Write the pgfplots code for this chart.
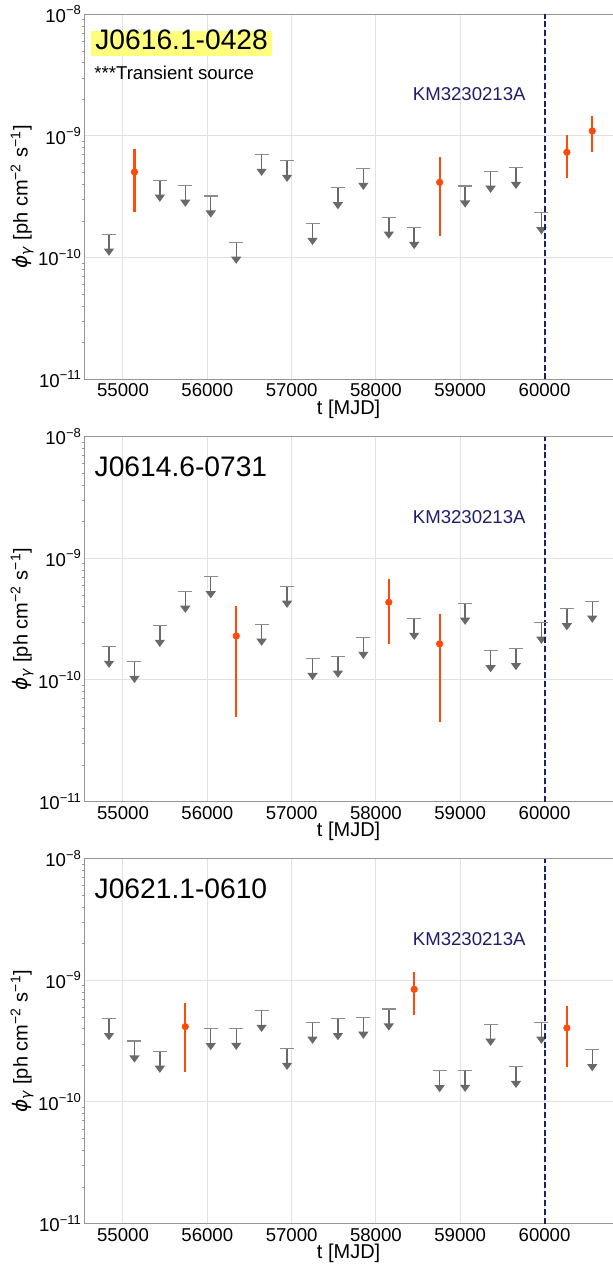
\documentclass[border=0pt]{standalone}
\usepackage{fontspec}
\setmainfont{Liberation Sans}
\newfontfamily\djv{DejaVu Sans}
\usepackage{pgfplots}
\pgfplotsset{compat=1.18}
\usepackage{pgfplotstable}
\usetikzlibrary{arrows.meta}

\definecolor{ulgray}{RGB}{105,105,105}
\definecolor{capgray}{RGB}{140,140,140}
\definecolor{detcol}{RGB}{255,75,10}
\definecolor{kmblue}{RGB}{30,30,105}
\definecolor{hlyellow}{RGB}{255,255,125}
\definecolor{gridgray}{RGB}{225,225,225}
\definecolor{spinegray}{RGB}{150,150,150}

\newcommand{\fsz}{\fontsize{9.3}{11}\selectfont}
\newcommand{\tfsz}{\fontsize{14.1}{16}\selectfont}

% ---------- Panel 1: J0616.1-0428 ----------
\pgfplotstableread{
x f
54834 1.56e-10
55437 4.33e-10
55739 3.94e-10
56041 3.21e-10
56343 1.34e-10
56644 7.07e-10
56946 6.31e-10
57248 1.91e-10
57549 3.76e-10
57851 5.42e-10
58153 2.15e-10
58454 1.77e-10
59058 3.88e-10
59360 5.13e-10
59661 5.52e-10
59963 2.34e-10
}\ulA
\pgfplotstableread{
x f ep em
55136 5.06e-10 2.71e-10 2.70e-10
58756 4.16e-10 2.60e-10 2.65e-10
60265 7.34e-10 2.76e-10 2.79e-10
60566 1.10e-9 3.70e-10 3.62e-10
}\detA

% ---------- Panel 2: J0614.6-0731 ----------
\pgfplotstableread{
x f
54834 1.89e-10
55136 1.42e-10
55437 2.81e-10
55739 5.36e-10
56041 7.06e-10
56644 2.87e-10
56946 5.89e-10
57248 1.50e-10
57549 1.57e-10
57851 2.24e-10
58454 3.21e-10
59058 4.27e-10
59360 1.74e-10
59661 1.81e-10
59963 2.98e-10
60265 3.85e-10
60566 4.44e-10
}\ulB
\pgfplotstableread{
x f ep em
56343 2.30e-10 1.78e-10 1.80e-10
58153 4.35e-10 2.37e-10 2.39e-10
58756 1.98e-10 1.53e-10 1.53e-10
}\detB

% ---------- Panel 3: J0621.1-0610 ----------
\pgfplotstableread{
x f
54834 4.84e-10
55136 3.17e-10
55437 2.61e-10
56041 4.01e-10
56343 4.03e-10
56644 5.66e-10
56946 2.76e-10
57248 4.52e-10
57549 4.84e-10
57851 4.97e-10
58153 5.81e-10
58756 1.81e-10
59058 1.82e-10
59360 4.35e-10
59661 1.96e-10
59963 4.52e-10
60566 2.69e-10
}\ulC
\pgfplotstableread{
x f ep em
55739 4.16e-10 2.39e-10 2.39e-10
58454 8.43e-10 3.27e-10 3.21e-10
60265 4.06e-10 2.09e-10 2.12e-10
}\detC

\pgfplotsset{
  every axis/.append style={
    width=264.35pt, height=182.5pt, scale only axis,
    xmin=54541, xmax=60812,
    ymin=1e-11, ymax=1e-8,
    axis x line*=box, axis y line*=left,
    axis line style={spinegray, line width=0.6pt},
    xtick={55000,56000,57000,58000,59000,60000},
    scaled x ticks=false,
    ytick={1e-11,1e-10,1e-9,1e-8},
    yticklabels={10\textsuperscript{−11},10\textsuperscript{−10},10\textsuperscript{−9},10\textsuperscript{−8}},
    minor ytick={2e-11,3e-11,4e-11,5e-11,6e-11,7e-11,8e-11,9e-11,
                 2e-10,3e-10,4e-10,5e-10,6e-10,7e-10,8e-10,9e-10,
                 2e-9,3e-9,4e-9,5e-9,6e-9,7e-9,8e-9,9e-9},
    grid=major,
    major grid style={gridgray, line width=0.5pt},
    major tick length=0pt, minor tick length=1.2pt,
    tick align=outside,
    minor tick style={spinegray, line width=0.4pt},
    /pgf/number format/1000 sep={},
    /pgf/number format/assume math mode=true,
    tick label style={font=\fsz},
    xticklabel style={inner sep=0pt, yshift=-2.1pt},
    yticklabel style={inner sep=0pt, xshift=-1pt},
    label style={font=\fsz},
    xlabel={t [MJD]},
    ylabel={{\djv\itshape ϕ}\textsubscript{\djv\itshape γ} [ph cm\textsuperscript{−2} s\textsuperscript{−1}]},
    every axis x label/.style={at={(axis description cs:0.5,-0.0822)}, anchor=center},
    every axis y label/.style={at={(axis description cs:-0.1178,0.5)}, anchor=center, rotate=90},
  },
}

\begin{document}
\begin{tikzpicture}
% Panel 1
\begin{axis}[ymode=log, at={(42.15pt,-7.15pt)}, anchor=north west]
  \addplot[only marks, mark=-, mark size=3.5pt, mark options={capgray, line width=0.6pt},
    error bars/y dir=minus, error bars/y fixed relative=0.336, error bars/error mark=none,
    error bars/error bar style={ulgray, line width=0.7pt, -{Triangle[width=5pt,length=3.6pt]}}]
    table[x=x, y=f] {\ulA};
  \addplot[only marks, mark=*, mark size=1.6pt, color=detcol, mark options={detcol},
    error bars/y dir=both, error bars/y explicit, error bars/error mark=none,
    error bars/error bar style={detcol, line width=1.15pt}]
    table[x=x, y=f, y error plus=ep, y error minus=em] {\detA};
  \addplot[kmblue, line width=1pt, dash pattern=on 3pt off 1.4pt] coordinates {(60000,1e-11) (60000,1e-8)};
  \node[anchor=east, text=kmblue, font=\fsz, inner sep=0pt] at (axis cs:59780,2.2e-9) {KM3230213A};
  \node[anchor=west, fill=hlyellow, font=\tfsz, inner xsep=2pt, inner ysep=2pt,
        text height=0.72em, text depth=0.12em, xshift=3.35pt, yshift=-14.6pt]
        at (rel axis cs:0,1) {J0616.1-0428};
  \node[anchor=west, font=\fsz, inner sep=0pt, xshift=4.85pt, yshift=-29.35pt]
        at (rel axis cs:0,1) {***Transient source};
\end{axis}
% Panel 2
\begin{axis}[ymode=log, at={(42.15pt,-218.3pt)}, anchor=north west]
  \addplot[only marks, mark=-, mark size=3.5pt, mark options={capgray, line width=0.6pt},
    error bars/y dir=minus, error bars/y fixed relative=0.336, error bars/error mark=none,
    error bars/error bar style={ulgray, line width=0.7pt, -{Triangle[width=5pt,length=3.6pt]}}]
    table[x=x, y=f] {\ulB};
  \addplot[only marks, mark=*, mark size=1.6pt, color=detcol, mark options={detcol},
    error bars/y dir=both, error bars/y explicit, error bars/error mark=none,
    error bars/error bar style={detcol, line width=1.15pt}]
    table[x=x, y=f, y error plus=ep, y error minus=em] {\detB};
  \addplot[kmblue, line width=1pt, dash pattern=on 3pt off 1.4pt] coordinates {(60000,1e-11) (60000,1e-8)};
  \node[anchor=east, text=kmblue, font=\fsz, inner sep=0pt] at (axis cs:59780,2.2e-9) {KM3230213A};
  \node[anchor=west, font=\tfsz, inner sep=0pt, xshift=5pt, yshift=-15.25pt]
        at (rel axis cs:0,1) {J0614.6-0731};
\end{axis}
% Panel 3
\begin{axis}[ymode=log, at={(42.15pt,-429.3pt)}, anchor=north west]
  \addplot[only marks, mark=-, mark size=3.5pt, mark options={capgray, line width=0.6pt},
    error bars/y dir=minus, error bars/y fixed relative=0.336, error bars/error mark=none,
    error bars/error bar style={ulgray, line width=0.7pt, -{Triangle[width=5pt,length=3.6pt]}}]
    table[x=x, y=f] {\ulC};
  \addplot[only marks, mark=*, mark size=1.6pt, color=detcol, mark options={detcol},
    error bars/y dir=both, error bars/y explicit, error bars/error mark=none,
    error bars/error bar style={detcol, line width=1.15pt}]
    table[x=x, y=f, y error plus=ep, y error minus=em] {\detC};
  \addplot[kmblue, line width=1pt, dash pattern=on 3pt off 1.4pt] coordinates {(60000,1e-11) (60000,1e-8)};
  \node[anchor=east, text=kmblue, font=\fsz, inner sep=0pt] at (axis cs:59780,2.2e-9) {KM3230213A};
  \node[anchor=west, font=\tfsz, inner sep=0pt, xshift=5pt, yshift=-15.25pt]
        at (rel axis cs:0,1) {J0621.1-0610};
\end{axis}
\pgfresetboundingbox
\path[use as bounding box] (0,0) rectangle (306.5pt,-632.5pt);
\end{tikzpicture}
\end{document}
